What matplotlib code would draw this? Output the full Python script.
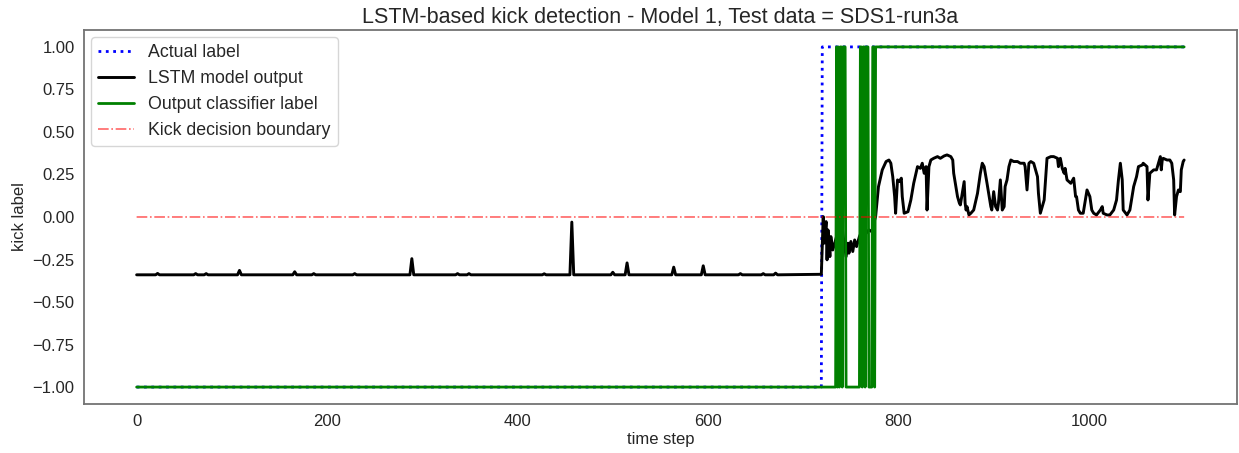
import numpy as np
import matplotlib
matplotlib.use('Agg')
import matplotlib.pyplot as plt
import seaborn as sns

sns.set_style('white')
plt.rcParams['font.family'] = ['Liberation Sans', 'DejaVu Sans']

# time axis
n_steps = 1101
kick_start = 720                 # actual label switches to +1 here

# classifier output: runs where label == +1 (start, end inclusive)
clf_runs = [(735, 735), (737, 737), (739, 740), (742, 744),
            (760, 761), (763, 764), (766, 768), (773, 774)]
clf_final_start = 776

# LSTM output, flat part before kick
lstm_base = -0.34
spike_t = [22, 62, 73, 108, 166, 186, 229, 289, 337, 349, 428, 457,
           500, 515, 564, 595, 634, 658, 671]
spike_v = [-0.332, -0.333, -0.333, -0.314, -0.322, -0.333, -0.333, -0.245,
           -0.333, -0.333, -0.334, -0.03, -0.325, -0.27, -0.295, -0.287,
           -0.333, -0.333, -0.33]

# LSTM output after kick (time step, value)
lstm_tail = [
    (719, -0.337), (721, 0.002), (722, -0.154), (724, -0.027), (725, -0.252),
    (726, -0.076), (728, -0.233), (729, -0.115), (731, -0.194), (733, -0.154),
    (735, -0.115), (738, -0.056), (740, -0.007), (742, -0.115), (745, -0.233),
    (747, -0.154), (748, -0.213), (750, -0.144), (752, -0.203), (754, -0.135),
    (756, -0.174), (759, -0.115), (762, -0.076), (766, -0.096), (769, -0.076),
    (772, -0.086), (774, -0.037), (776, 0.002), (779, 0.178), (783, 0.277),
    (787, 0.326), (790, 0.335), (792, 0.316), (794, 0.237), (796, 0.12),
    (797, 0.022), (799, 0.218), (801, 0.208), (803, 0.228), (804, 0.12),
    (806, 0.022), (810, 0.031), (813, 0.1), (816, 0.198), (820, 0.296),
    (823, 0.286), (825, 0.316), (827, 0.257), (829, 0.296), (830, 0.041),
    (832, 0.296), (834, 0.335), (837, 0.345), (841, 0.355), (844, 0.345),
    (848, 0.359), (851, 0.365), (855, 0.355), (857, 0.335), (858, 0.257),
    (862, 0.12), (864, 0.081), (865, 0.071), (869, 0.208), (870, 0.081),
    (871, 0.041), (872, 0.061), (874, 0.012), (876, 0.022), (879, 0.041),
    (883, 0.139), (886, 0.257), (888, 0.316), (890, 0.296), (893, 0.198),
    (897, 0.061), (898, 0.041), (900, 0.149), (902, 0.061), (904, 0.041),
    (905, 0.081), (907, 0.218), (909, 0.041), (911, 0.061), (912, 0.179),
    (914, 0.218), (916, 0.296), (918, 0.335), (921, 0.326), (925, 0.326),
    (928, 0.316), (932, 0.316), (933, 0.296), (935, 0.159), (937, 0.316),
    (939, 0.326), (942, 0.316), (946, 0.237), (947, 0.139), (949, 0.022),
    (951, 0.061), (953, 0.1), (956, 0.345), (960, 0.355), (963, 0.355),
    (967, 0.345), (968, 0.296), (970, 0.345), (972, 0.286), (974, 0.257),
    (975, 0.286), (977, 0.218), (981, 0.198), (984, 0.228), (986, 0.12),
    (987, 0.12), (989, 0.041), (991, 0.022), (994, 0.022), (998, 0.159),
    (1001, 0.12), (1003, 0.041), (1005, 0.022), (1008, 0.012), (1012, 0.041),
    (1014, 0.061), (1015, 0.022), (1019, 0.012), (1022, 0.012), (1026, 0.041),
    (1028, 0.081), (1029, 0.1), (1031, 0.218), (1033, 0.316), (1035, 0.218),
    (1036, 0.041), (1040, 0.012), (1043, 0.041), (1047, 0.179), (1050, 0.237),
    (1052, 0.296), (1056, 0.306), (1057, 0.316), (1061, 0.296), (1062, 0.1),
    (1064, 0.257), (1068, 0.277), (1071, 0.277), (1073, 0.316), (1075, 0.355),
    (1076, 0.277), (1077, 0.335), (1078, 0.345), (1082, 0.335), (1085, 0.335),
    (1087, 0.316), (1089, 0.218), (1090, 0.012), (1092, 0.12), (1094, 0.159),
    (1096, 0.149), (1097, 0.277), (1099, 0.326), (1100, 0.335),
]

threshold = 0.0

# build series
t = np.arange(n_steps)
actual = np.where(t < kick_start, -1, 1)

clf = -np.ones(n_steps)
for a, b in clf_runs:
    clf[a:b + 1] = 1
clf[clf_final_start:] = 1

lstm_t = [0]
lstm_v = [lstm_base]
for st, sv in zip(spike_t, spike_v):
    lstm_t += [st - 2, st, st + 2]
    lstm_v += [lstm_base, sv, lstm_base]
tail_t, tail_v = zip(*lstm_tail)
lstm_t += list(tail_t)
lstm_v += list(tail_v)

# plot
fig = plt.figure(figsize=(12.39, 4.53), dpi=100)
ax = fig.add_axes([0.068, 0.108, 0.930, 0.826])

ax.plot(t, actual, ':', color='blue', lw=2, label='Actual label')
ax.plot(lstm_t, lstm_v, color='black', lw=2.1, label='LSTM model output')
ax.plot(t, clf, color='green', lw=2, label='Output classifier label')
ax.plot(t, np.full(n_steps, threshold), '-.', color='red', lw=1.2, alpha=0.6,
        label='Kick decision boundary')

ax.set_xlim(-55, 1155)
ax.set_title('LSTM-based kick detection - Model 1, Test data = SDS1-run3a',
             fontsize=15.5, color='.15', pad=5)
ax.set_xlabel('time step', fontsize=12, labelpad=2)
ax.set_ylabel('kick label', fontsize=12)
ax.tick_params(labelsize=12, colors='.15')
ax.set_yticks(np.arange(-1, 1.01, 0.25))
ax.set_yticklabels([f'{v:.2f}'.replace('-', '\u2212') for v in np.arange(-1, 1.01, 0.25)])
for s in ax.spines.values():
    s.set_color('0.45')
    s.set_linewidth(1.3)

ax.legend(loc='upper left', fontsize=12.8, frameon=True, borderaxespad=0.4,
          handlelength=2.0)

plt.savefig('out.png')
